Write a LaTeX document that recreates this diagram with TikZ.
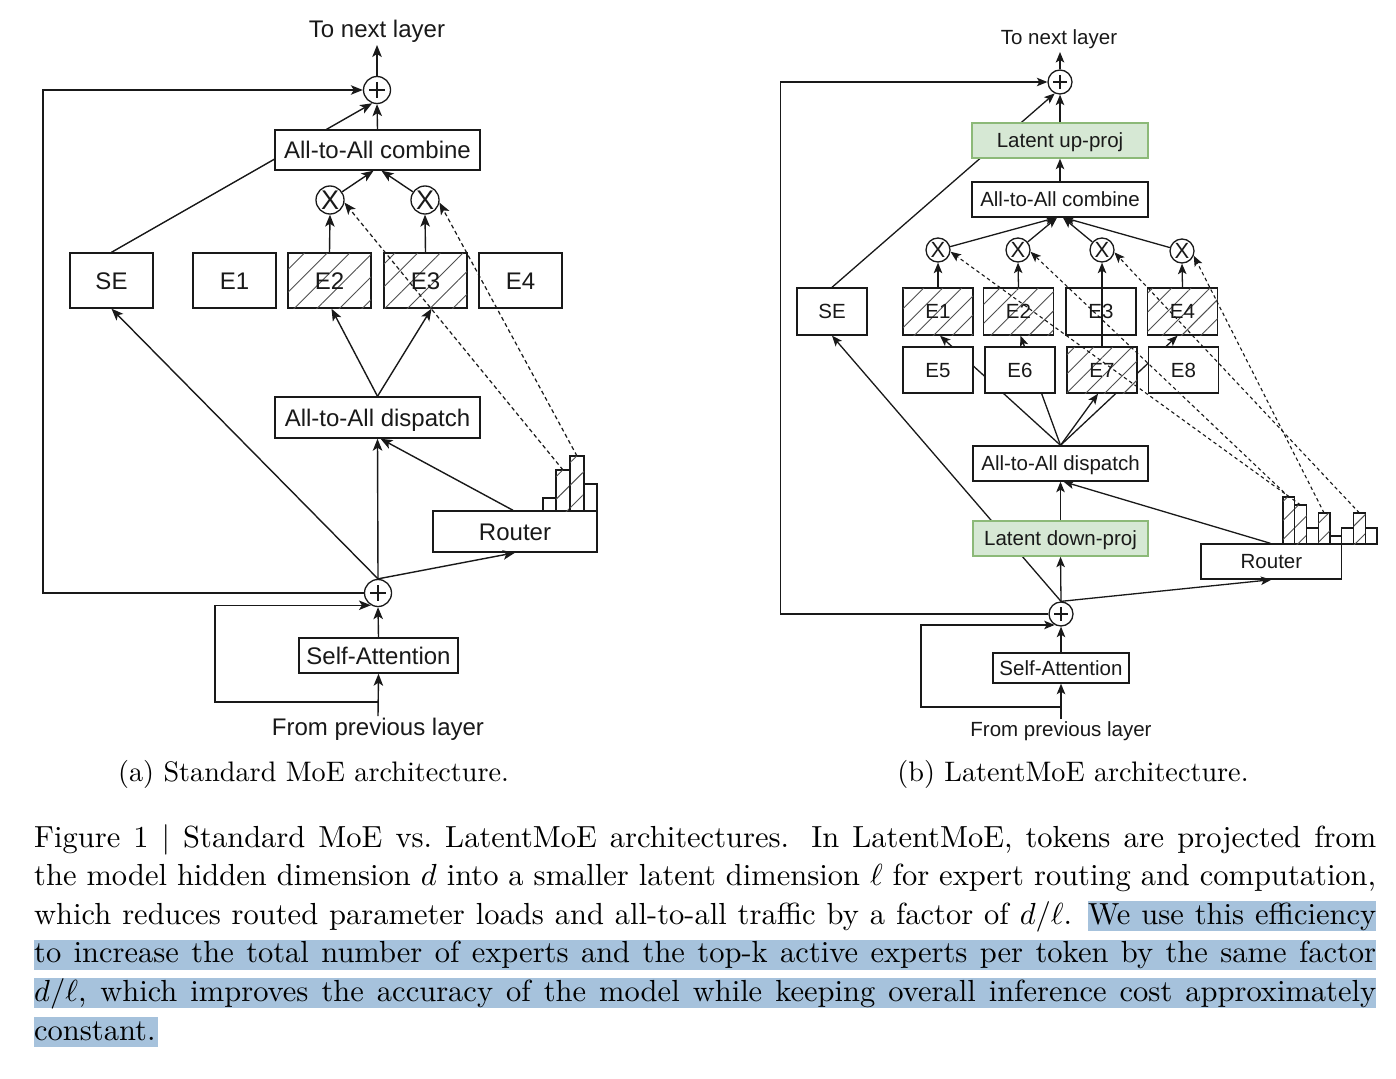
\documentclass[tikz,border=0pt]{standalone}
\usepackage{fontspec}
\usepackage{graphicx}
\newfontfamily\diagfont{Liberation Sans}
\usetikzlibrary{arrows.meta,patterns.meta,calc}
\pgfdeclarelayer{bg}
\pgfsetlayers{bg,main}
\definecolor{ink}{RGB}{25,25,25}
\definecolor{hatchc}{RGB}{80,80,80}
\definecolor{latfill}{RGB}{214,232,212}
\definecolor{latdraw}{RGB}{140,185,120}
\definecolor{hilite}{RGB}{166,194,220}
\newcommand\lblfontA{\diagfont\fontsize{24}{28}\selectfont}
\newcommand\lblfontB{\diagfont\fontsize{20.5}{24}\selectfont}
\tikzset{
  basebox/.style={draw=ink, fill=white, line width=1.4pt, inner sep=0pt, text=ink},
  boxA/.style={basebox, font=\lblfontA, text height=17.2pt, text depth=0pt},
  boxB/.style={basebox, font=\lblfontB, text height=14.7pt, text depth=0pt},
  hatchA/.style={postaction={pattern color=hatchc, pattern={Lines[angle=45,distance=16pt,line width=0.9pt]}}},
  hatchB/.style={postaction={pattern color=hatchc, pattern={Lines[angle=45,distance=13.5pt,line width=0.9pt]}}},
  latent/.style={fill=latfill, draw=latdraw},
  xcircA/.style={circle, draw=ink, fill=white, line width=1.3pt, minimum size=28pt, inner sep=0pt, text=ink,
    font=\diagfont\fontsize{27}{27}\selectfont},
  xcircB/.style={xcircA, minimum size=24pt, font=\diagfont\fontsize{22}{22}\selectfont},
  plusA/.style={circle, draw=ink, fill=white, line width=1.3pt, minimum size=27pt, inner sep=0pt,
    path picture={\draw[line width=1.8pt, draw=ink] (path picture bounding box.center) ++(-8,0) -- ++(16,0)
      (path picture bounding box.center) ++(0,-8) -- ++(0,16);}},
  plusB/.style={circle, draw=ink, fill=white, line width=1.3pt, minimum size=24pt, inner sep=0pt,
    path picture={\draw[line width=1.6pt, draw=ink] (path picture bounding box.center) ++(-7,0) -- ++(14,0)
      (path picture bounding box.center) ++(0,-7) -- ++(0,14);}},
  lblA/.style={font=\lblfontA, inner sep=0pt, anchor=base, text=ink},
  lblB/.style={font=\lblfontB, inner sep=0pt, anchor=base, text=ink},
  arr/.style={draw=ink, line width=1.4pt, -{Stealth[length=12pt,width=9.5pt,inset=3pt]}},
  arrB/.style={draw=ink, line width=1.3pt, -{Stealth[length=10.5pt,width=8.5pt,inset=2.5pt]}},
  darr/.style={arr, line width=1.2pt, dash pattern=on 4pt off 3pt},
  darrB/.style={arrB, line width=1.1pt, dash pattern=on 3.5pt off 3pt},
  bar/.style={draw=ink, fill=white, line width=1.2pt},
}
\begin{document}
\begin{tikzpicture}[x=1pt,y=-1pt]
\begin{pgfonlayer}{bg}
  \fill[white] (0,0) rectangle (1396,1078);
\end{pgfonlayer}
\useasboundingbox (0,0) rectangle (1396,1078);

% ================= (a) standard MoE =================
\node[plusA] (pA1) at (377,90) {};
\node[boxA, minimum width=205pt, minimum height=40pt] (combA) at (377.5,150) {All-to-All combine};
\node[xcircA] (xA1) at (330,200) {X};
\node[xcircA] (xA2) at (425,200) {X};
\node[boxA, minimum width=83pt, minimum height=55pt] (seA) at (111.5,280.5) {SE};
\node[boxA, minimum width=83pt, minimum height=55pt] (e1A) at (234.5,280.5) {E1};
\node[boxA, hatchA, minimum width=83pt, minimum height=55pt] (e2A) at (329.5,280.5) {E2};
\node[boxA, hatchA, minimum width=83pt, minimum height=55pt] (e3A) at (425.5,280.5) {E3};
\node[boxA, minimum width=83pt, minimum height=55pt] (e4A) at (520.5,280.5) {E4};
\node[boxA, minimum width=205pt, minimum height=41pt] (dispA) at (377.5,417.5) {All-to-All dispatch};
\node[boxA, minimum width=164pt, minimum height=41pt] (routA) at (515,531.5) {Router};
\node[plusA] (pA2) at (378,593) {};
\node[boxA, minimum width=159pt, minimum height=35pt] (saA) at (378.5,655.5) {Self-Attention};
\node[lblA] (toA) at (377,38) {To next layer};
\node[lblA] (fromA) at (378,735) {From previous layer};
\coordinate (topA) at (377,45);
\coordinate (inA) at (378,716);
\coordinate (brA) at (378,702);

% router scores
\draw[bar] (543,511) rectangle (556,498);
\draw[bar, hatchA] (556,511) rectangle (570,470);
\draw[bar, hatchA] (570,511) rectangle (584,456);
\draw[bar] (584,511) rectangle (597,484);
\coordinate (bA2) at (563,470);
\coordinate (bA3) at (577,456);

\begin{pgfonlayer}{bg}
  \draw[arr] (seA.north) -- (pA1.250);
\end{pgfonlayer}
\draw[arr] (pA1.north) -- (topA);
\draw[arr] (combA.north) -- (pA1.south);
\draw[arr] (xA1) -- ([xshift=-4pt]combA.south);
\draw[arr] (xA2) -- ([xshift=4pt]combA.south);
\draw[arr] (e2A.north) -- (xA1.south);
\draw[arr] (e3A.north) -- (xA2.south);
\draw[arr] (dispA.north) -- ([xshift=2pt]e2A.south);
\draw[arr] (dispA.north) -- ([xshift=6pt]e3A.south);
\draw[arr] (pA2.north) -- (dispA.south);
\draw[arr] (pA2.north) -- (seA.south);
\draw[arr] (pA2.north) -- (routA.south);
\draw[arr] ([xshift=-2pt]routA.north) -- ([xshift=3pt]dispA.south);
\draw[arr] (saA.north) -- (pA2.south);
\draw[arr] (inA) -- (saA.south);
\draw[arr] (brA) -- ++(-163,0) |- (pA2.240);
\draw[arr] (pA2.west) -- ++(-321,0) |- (pA1.west);
\draw[darr] (bA2) -- (xA1.-10);
\draw[darr] (bA3) -- (xA2.-10);

% ================= (b) LatentMoE =================
\node[plusB] (pB1) at (1060,82) {};
\node[boxB, latent, minimum width=176pt, minimum height=35pt] (upB) at (1060,140.5) {Latent up-proj};
\node[boxB, minimum width=176pt, minimum height=35pt] (combB) at (1060,199.5) {All-to-All combine};
\node[xcircB] (xB1) at (938,250) {X};
\node[xcircB] (xB2) at (1018,250) {X};
\node[xcircB] (xB3) at (1102,250) {X};
\node[xcircB] (xB4) at (1182,251) {X};
\node[boxB, minimum width=70pt, minimum height=47pt] (seB) at (832,311.5) {SE};
\node[boxB, hatchB, minimum width=70pt, minimum height=47pt] (e1B) at (938,311.5) {E1};
\node[boxB, hatchB, minimum width=70pt, minimum height=47pt] (e2B) at (1018.5,311.5) {E2};
\node[boxB, minimum width=70pt, minimum height=47pt] (e3B) at (1101,311.5) {E3};
\node[boxB, hatchB, minimum width=70pt, minimum height=47pt] (e4B) at (1182.5,311.5) {E4};
\node[boxB, minimum width=70pt, minimum height=46pt] (e5B) at (938,370) {E5};
\node[boxB, minimum width=70pt, minimum height=46pt] (e6B) at (1020,370) {E6};
\node[boxB, hatchB, minimum width=70pt, minimum height=46pt] (e7B) at (1102,370) {E7};
\node[boxB, minimum width=70pt, minimum height=46pt] (e8B) at (1183.5,370) {E8};
\node[boxB, minimum width=175pt, minimum height=35pt] (dispB) at (1060.5,463.5) {All-to-All dispatch};
\node[boxB, latent, minimum width=175pt, minimum height=35pt] (downB) at (1060.5,538.5) {Latent down-proj};
\node[boxB, minimum width=140.75pt, minimum height=35pt] (routB) at (1271.4,561.5) {Router};
\node[plusB] (pB2) at (1061,614) {};
\node[boxB, minimum width=136pt, minimum height=30pt] (saB) at (1061,668) {Self-Attention};
\node[lblB] (toB) at (1059,45) {To next layer};
\node[lblB] (fromB) at (1061,736) {From previous layer};
\coordinate (topB) at (1060,52);
\coordinate (inB) at (1061,719);
\coordinate (brB) at (1061,707);

% router scores
\draw[bar, hatchB] (1283,544) rectangle (1294.75,497);
\draw[bar, hatchB] (1294.75,544) rectangle (1306.5,505);
\draw[bar] (1306.5,544) rectangle (1318.25,528);
\draw[bar, hatchB] (1318.25,544) rectangle (1330,513);
\draw[bar] (1330,544) rectangle (1341.75,536);
\draw[bar] (1341.75,544) rectangle (1353.5,528);
\draw[bar, hatchB] (1353.5,544) rectangle (1365.25,513);
\draw[bar] (1365.25,544) rectangle (1377,528);
\coordinate (bB1) at (1288.9,497);
\coordinate (bB2) at (1300.6,505);
\coordinate (bB4) at (1324.1,513);
\coordinate (bB7) at (1359.4,513);

\begin{pgfonlayer}{bg}
  \draw[arrB] (seB.north) -- (pB1.245);
  \draw[arrB] (dispB.north) -- ([xshift=2pt]e1B.south);
  \draw[arrB] (dispB.north) -- ([xshift=2pt]e2B.south);
  \draw[arrB] (dispB.north) -- ([xshift=-5pt]e4B.south);
  \draw[arrB] (pB2.north) -- (seB.south);
\end{pgfonlayer}
\draw[arrB] (pB1.north) -- (topB);
\draw[arrB] (upB.north) -- (pB1.south);
\draw[arrB] (combB.north) -- (upB.south);
\draw[arrB] (xB1) -- ([xshift=-4pt]combB.south);
\draw[arrB] (xB2) -- ([xshift=-3pt]combB.south);
\draw[arrB] (xB3) -- ([xshift=3pt]combB.south);
\draw[arrB] (xB4) -- ([xshift=4pt]combB.south);
\draw[arrB] (e1B.north) -- (xB1.south);
\draw[arrB] (e2B.north) -- (xB2.south);
\draw[arrB] (e7B.north) -- (xB3.south);
\draw[arrB] (e4B.north) -- (xB4.south);
\draw[arrB] (dispB.north) -- ([xshift=-4pt]e7B.south);
\draw[arrB] (downB.north) -- (dispB.south);
\draw[arrB] ([xshift=-1pt]routB.north) -- ([xshift=3pt]dispB.south);
\draw[arrB] (pB2.north) -- (downB.south);
\draw[arrB] (pB2.north) -- (routB.south);
\draw[arrB] (saB.north) -- (pB2.south);
\draw[arrB] (inB) -- (saB.south);
\draw[arrB] (brB) -- ++(-140,0) |- (pB2.240);
\draw[arrB] (pB2.west) -- ++(-268,0) |- (pB1.west);
\draw[darrB] (bB1) -- (xB2.-8);
\draw[darrB] (bB2) -- (xB1.-8);
\draw[darrB] (bB4) -- (xB4.-22);
\draw[darrB] (bB7) -- (xB3.-11);

% ================= captions =================
\node[anchor=base, inner sep=0pt] (capA) at (313.5,781) {\scalebox{2.82}{(a) Standard MoE architecture.}};
\node[anchor=base, inner sep=0pt] (capB) at (1073,781) {\scalebox{2.82}{(b) LatentMoE architecture.}};

\fill[hilite] (1088,901) rectangle (1376,931);
\fill[hilite] (34,940) rectangle (1376,970);
\fill[hilite] (34,978) rectangle (1376,1008);
\fill[hilite] (34,1017) rectangle (158,1047);

\node[anchor=base west, inner sep=0pt] (fig) at (34,847) {\scalebox{3.05}{\parbox[t]{440pt}{\fontsize{10}{12.66}\selectfont
Figure 1 \textbar{} Standard MoE vs.\ LatentMoE architectures. In LatentMoE, tokens are projected from\linebreak
the model hidden dimension $d$ into a smaller latent dimension $\ell$ for expert routing and computation,\linebreak
which reduces routed parameter loads and all-to-all traffic by a factor of $d/\ell$. We use this efficiency\linebreak
to increase the total number of experts and the top-k active experts per token by the same factor\linebreak
$d/\ell$, which improves the accuracy of the model while keeping overall inference cost approximately\linebreak
constant.}}};
\end{tikzpicture}
\end{document}
